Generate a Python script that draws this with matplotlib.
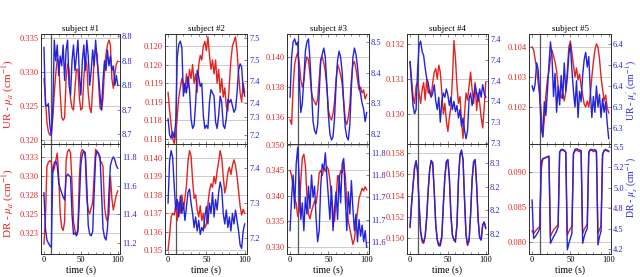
import numpy as np
import matplotlib.pyplot as plt
from matplotlib.ticker import FixedLocator, FixedFormatter, AutoMinorLocator

plt.rcParams['font.family'] = ['Liberation Serif', 'DejaVu Serif']
plt.rcParams['mathtext.fontset'] = 'stix'

RED = '#e2231f'
BLUE = '#2323dc'

# tempo (s), un campione ogni 2 s
time = np.arange(0, 101, 2)

subjects = ['subject #1', 'subject #2', 'subject #3', 'subject #4', 'subject #5']

# --- soggetto 1 ---
ur_mua_1 = [0.3290, 0.3261, 0.3226, 0.3212, 0.3207, 0.3209, 0.3233, 0.3269, 0.3297, 0.3319,
            0.3316, 0.3269, 0.3233, 0.3229, 0.3233, 0.3290, 0.3312, 0.3304, 0.3261, 0.3247,
            0.3244, 0.3276, 0.3304, 0.3304, 0.3261, 0.3244, 0.3247, 0.3290, 0.3319, 0.3312,
            0.3269, 0.3247, 0.3240, 0.3276, 0.3319, 0.3333, 0.3326, 0.3283, 0.3247, 0.3244,
            0.3261, 0.3304, 0.3326, 0.3340, 0.3347, 0.3340, 0.3290, 0.3276, 0.3297, 0.3312, 0.3316]
ur_mus_1 = [8.781, 8.734, 8.733, 8.735, 8.717, 8.709, 8.730, 8.787, 8.770, 8.783,
            8.758, 8.774, 8.766, 8.783, 8.754, 8.779, 8.787, 8.750, 8.742, 8.770,
            8.783, 8.762, 8.774, 8.787, 8.758, 8.742, 8.770, 8.783, 8.762, 8.787,
            8.774, 8.750, 8.762, 8.779, 8.766, 8.787, 8.770, 8.758, 8.742, 8.730,
            8.754, 8.770, 8.762, 8.779, 8.766, 8.774, 8.762, 8.766, 8.750, 8.758, 8.750]
dr_mua_1 = [0.3210, 0.3245, 0.3312, 0.3318, 0.3320, 0.3318, 0.3305, 0.3310, 0.3320, 0.3330,
            0.3300, 0.3250, 0.3232, 0.3228, 0.3240, 0.3320, 0.3332, 0.3335, 0.3330, 0.3290,
            0.3240, 0.3228, 0.3222, 0.3230, 0.3300, 0.3330, 0.3335, 0.3332, 0.3325, 0.3270,
            0.3255, 0.3250, 0.3258, 0.3265, 0.3300, 0.3335, 0.3332, 0.3330, 0.3320, 0.3318,
            0.3312, 0.3260, 0.3245, 0.3240, 0.3250, 0.3300, 0.3270, 0.3255, 0.3265, 0.3275, 0.3280]
dr_mus_1 = [11.55, 11.30, 11.22, 11.20, 11.18, 11.17, 11.70, 11.76, 11.77, 11.74,
            11.62, 11.58, 11.55, 11.52, 11.50, 11.66, 11.68, 11.67, 11.66, 11.40,
            11.26, 11.27, 11.25, 11.28, 11.50, 11.75, 11.82, 11.84, 11.83, 11.60,
            11.32, 11.26, 11.25, 11.28, 11.55, 11.80, 11.84, 11.82, 11.80, 11.55,
            11.30, 11.24, 11.22, 11.30, 11.55, 11.74, 11.78, 11.80, 11.78, 11.74, 11.72]

# --- soggetto 2 ---
ur_mua_2 = [0.1190, 0.1186, 0.1183, 0.1180, 0.1179, 0.1181, 0.1185, 0.1189, 0.1191, 0.1193,
            0.1192, 0.1190, 0.1194, 0.1191, 0.1195, 0.1193, 0.1196, 0.1192, 0.1194, 0.1190,
            0.1196, 0.1198, 0.1197, 0.1200, 0.1201, 0.1199, 0.1202, 0.1198, 0.1195, 0.1197,
            0.1194, 0.1197, 0.1192, 0.1195, 0.1190, 0.1193, 0.1189, 0.1191, 0.1187, 0.1186,
            0.1192, 0.1197, 0.1200, 0.1201, 0.1202, 0.1199, 0.1194, 0.1190, 0.1188, 0.1192, 0.1190]
ur_mus_2 = [7.25, 7.20, 7.19, 7.21, 7.19, 7.24, 7.44, 7.48, 7.49, 7.47,
            7.32, 7.36, 7.33, 7.38, 7.34, 7.25, 7.22, 7.23, 7.30, 7.40,
            7.38, 7.35, 7.36, 7.26, 7.22, 7.23, 7.22, 7.30, 7.34, 7.33,
            7.32, 7.24, 7.22, 7.26, 7.32, 7.30, 7.23, 7.22, 7.25, 7.31,
            7.30, 7.31, 7.29, 7.27, 7.28, 7.33, 7.40, 7.42, 7.41, 7.34, 7.32]
dr_mua_2 = [0.1350, 0.1358, 0.1368, 0.1370, 0.1369, 0.1374, 0.1366, 0.1376, 0.1370, 0.1380,
            0.1372, 0.1378, 0.1385, 0.1398, 0.1404, 0.1401, 0.1388, 0.1378, 0.1380, 0.1372,
            0.1368, 0.1374, 0.1366, 0.1370, 0.1362, 0.1364, 0.1375, 0.1382, 0.1386, 0.1384,
            0.1390, 0.1386, 0.1393, 0.1398, 0.1404, 0.1400, 0.1390, 0.1381, 0.1385, 0.1392,
            0.1395, 0.1391, 0.1396, 0.1399, 0.1396, 0.1390, 0.1382, 0.1374, 0.1369, 0.1372, 0.1370]
dr_mus_2 = [7.30, 7.42, 7.45, 7.43, 7.35, 7.28, 7.31, 7.26, 7.32, 7.27,
            7.30, 7.25, 7.29, 7.33, 7.34, 7.30, 7.27, 7.23, 7.26, 7.22,
            7.25, 7.21, 7.23, 7.22, 7.26, 7.29, 7.24, 7.30, 7.27, 7.33,
            7.26, 7.31, 7.28, 7.33, 7.36, 7.34, 7.27, 7.24, 7.28, 7.23,
            7.26, 7.22, 7.27, 7.24, 7.28, 7.25, 7.22, 7.18, 7.17, 7.22, 7.24]

# --- soggetto 3 ---
ur_mua_3 = [0.1358, 0.1355, 0.1380, 0.1395, 0.1400, 0.1403, 0.1396, 0.1385, 0.1380, 0.1384,
            0.1395, 0.1400, 0.1398, 0.1388, 0.1376, 0.1372, 0.1370, 0.1368, 0.1372, 0.1385,
            0.1398, 0.1400, 0.1396, 0.1390, 0.1380, 0.1365, 0.1360, 0.1358, 0.1362, 0.1370,
            0.1385, 0.1395, 0.1392, 0.1388, 0.1382, 0.1370, 0.1358, 0.1355, 0.1360, 0.1368,
            0.1385, 0.1395, 0.1397, 0.1392, 0.1385, 0.1378, 0.1380, 0.1376, 0.1378, 0.1372, 0.1375]
ur_mus_3 = [8.32, 8.45, 8.50, 8.51, 8.49, 8.50, 8.38, 8.27, 8.30, 8.38,
            8.47, 8.50, 8.51, 8.44, 8.34, 8.24, 8.21, 8.20, 8.23, 8.33,
            8.44, 8.46, 8.48, 8.45, 8.36, 8.26, 8.20, 8.18, 8.19, 8.25,
            8.36, 8.44, 8.47, 8.45, 8.40, 8.30, 8.22, 8.19, 8.18, 8.23,
            8.35, 8.45, 8.48, 8.46, 8.42, 8.36, 8.33, 8.30, 8.28, 8.24, 8.27]
dr_mua_3 = [0.3450, 0.3440, 0.3415, 0.3395, 0.3385, 0.3360, 0.3370, 0.3430, 0.3475, 0.3482,
            0.3460, 0.3400, 0.3365, 0.3355, 0.3370, 0.3380, 0.3390, 0.3385, 0.3410, 0.3445,
            0.3450, 0.3440, 0.3455, 0.3448, 0.3458, 0.3452, 0.3430, 0.3400, 0.3370, 0.3350,
            0.3390, 0.3440, 0.3432, 0.3450, 0.3445, 0.3465, 0.3440, 0.3390, 0.3350, 0.3335,
            0.3320, 0.3305, 0.3315, 0.3340, 0.3370, 0.3395, 0.3405, 0.3415, 0.3410, 0.3418, 0.3412]
dr_mus_3 = [11.66, 11.72, 11.76, 11.70, 11.78, 11.81, 11.75, 11.68, 11.71, 11.66,
            11.72, 11.69, 11.74, 11.70, 11.76, 11.72, 11.74, 11.68, 11.64, 11.66,
            11.74, 11.78, 11.77, 11.80, 11.76, 11.72, 11.68, 11.74, 11.66, 11.70,
            11.73, 11.68, 11.76, 11.71, 11.78, 11.79, 11.72, 11.66, 11.73, 11.69,
            11.75, 11.70, 11.66, 11.69, 11.64, 11.68, 11.65, 11.67, 11.64, 11.66, 11.63]

# --- soggetto 4 ---
ur_mua_4 = [0.1315, 0.1310, 0.1305, 0.1303, 0.1308, 0.1309, 0.1306, 0.1303, 0.1307, 0.1309,
            0.1304, 0.1310, 0.1306, 0.1307, 0.1305, 0.1309, 0.1312, 0.1313, 0.1310, 0.1314,
            0.1312, 0.1306, 0.1300, 0.1303, 0.1298, 0.1295, 0.1299, 0.1302, 0.1310, 0.1321,
            0.1316, 0.1308, 0.1303, 0.1305, 0.1298, 0.1293, 0.1300, 0.1306, 0.1304, 0.1308,
            0.1312, 0.1307, 0.1303, 0.1309, 0.1301, 0.1306, 0.1303, 0.1299, 0.1296, 0.1302, 0.1309]
ur_mus_4 = [7.389, 7.378, 7.368, 7.364, 7.366, 7.385, 7.397, 7.399, 7.394, 7.392,
            7.386, 7.381, 7.379, 7.374, 7.372, 7.374, 7.378, 7.370, 7.366, 7.372,
            7.360, 7.370, 7.374, 7.372, 7.376, 7.373, 7.368, 7.372, 7.366, 7.370,
            7.365, 7.368, 7.362, 7.366, 7.358, 7.362, 7.356, 7.352, 7.356, 7.371,
            7.374, 7.368, 7.372, 7.378, 7.374, 7.370, 7.376, 7.372, 7.378, 7.374, 7.372]
dr_mua_4 = [0.1510, 0.1531, 0.1550, 0.1566, 0.1572, 0.1564, 0.1531, 0.1506, 0.1496, 0.1495,
            0.1502, 0.1519, 0.1545, 0.1564, 0.1573, 0.1571, 0.1545, 0.1512, 0.1498, 0.1493,
            0.1496, 0.1502, 0.1531, 0.1557, 0.1572, 0.1573, 0.1556, 0.1522, 0.1503, 0.1498,
            0.1499, 0.1512, 0.1555, 0.1578, 0.1581, 0.1574, 0.1536, 0.1503, 0.1493, 0.1497,
            0.1522, 0.1555, 0.1571, 0.1573, 0.1550, 0.1517, 0.1500, 0.1498, 0.1512, 0.1515, 0.1509]
dr_mus_4 = [8.206, 8.225, 8.241, 8.256, 8.262, 8.252, 8.225, 8.202, 8.195, 8.193,
            8.198, 8.214, 8.237, 8.255, 8.262, 8.259, 8.235, 8.208, 8.195, 8.190,
            8.190, 8.197, 8.225, 8.248, 8.261, 8.263, 8.247, 8.216, 8.199, 8.195,
            8.193, 8.208, 8.246, 8.267, 8.271, 8.263, 8.229, 8.199, 8.191, 8.195,
            8.216, 8.246, 8.261, 8.263, 8.241, 8.212, 8.197, 8.195, 8.208, 8.210, 8.205]

# --- soggetto 5 ---
ur_mua_5 = [0.1040, 0.1039, 0.1036, 0.1033, 0.1028, 0.1024, 0.1018, 0.1010, 0.1016, 0.1024,
            0.1029, 0.1032, 0.1036, 0.1039, 0.1037, 0.1035, 0.1032, 0.1027, 0.1024, 0.1023,
            0.1025, 0.1022, 0.1025, 0.1032, 0.1040, 0.1042, 0.1038, 0.1034, 0.1030, 0.1033,
            0.1029, 0.1031, 0.1027, 0.1024, 0.1021, 0.1020, 0.1022, 0.1020, 0.1024, 0.1030,
            0.1035, 0.1039, 0.1041, 0.1040, 0.1036, 0.1030, 0.1026, 0.1022, 0.1024, 0.1020, 0.1018]
ur_mus_5 = [6.350, 6.345, 6.352, 6.372, 6.365, 6.340, 6.310, 6.302, 6.335, 6.322,
            6.345, 6.370, 6.392, 6.378, 6.340, 6.362, 6.325, 6.350, 6.332, 6.360,
            6.338, 6.372, 6.345, 6.358, 6.380, 6.390, 6.365, 6.345, 6.330, 6.355,
            6.320, 6.345, 6.335, 6.360, 6.375, 6.382, 6.368, 6.378, 6.345, 6.320,
            6.340, 6.325, 6.350, 6.330, 6.342, 6.320, 6.338, 6.325, 6.335, 6.315, 6.300]
dr_mua_5 = [0.0816, 0.0812, 0.0815, 0.0818, 0.0820, 0.0822, 0.0905, 0.0918, 0.0920, 0.0921,
            0.0922, 0.0923, 0.0808, 0.0813, 0.0817, 0.0820, 0.0822, 0.0825, 0.0928, 0.0931,
            0.0931, 0.0930, 0.0928, 0.0810, 0.0815, 0.0819, 0.0823, 0.0926, 0.0930, 0.0931,
            0.0930, 0.0929, 0.0929, 0.0812, 0.0818, 0.0822, 0.0825, 0.0927, 0.0931, 0.0931,
            0.0929, 0.0930, 0.0928, 0.0812, 0.0818, 0.0823, 0.0926, 0.0930, 0.0931, 0.0930, 0.0929]
dr_mus_5 = [4.85, 4.38, 4.40, 4.43, 4.46, 4.50, 5.32, 5.36, 5.36, 5.37,
            5.38, 5.38, 4.32, 4.36, 4.40, 4.43, 4.47, 4.52, 5.44, 5.47,
            5.47, 5.46, 5.44, 4.24, 4.32, 4.38, 4.44, 5.42, 5.47, 5.48,
            5.47, 5.46, 5.46, 4.32, 4.40, 4.46, 4.50, 5.44, 5.47, 5.47,
            5.46, 5.47, 5.45, 4.30, 4.40, 4.47, 5.40, 5.46, 5.47, 5.46, 5.45]

ur_mua = [ur_mua_1, ur_mua_2, ur_mua_3, ur_mua_4, ur_mua_5]
ur_mus = [ur_mus_1, ur_mus_2, ur_mus_3, ur_mus_4, ur_mus_5]
dr_mua = [dr_mua_1, dr_mua_2, dr_mua_3, dr_mua_4, dr_mua_5]
dr_mus = [dr_mus_1, dr_mus_2, dr_mus_3, dr_mus_4, dr_mus_5]

# tacche e etichette (come nel grafico originale)
ur_mua_ticks = [[0.320, 0.325, 0.330, 0.335],
                [0.1180, 0.1184, 0.1188, 0.1192, 0.1196, 0.1200],
                [0.136, 0.138, 0.140],
                [0.130, 0.131, 0.132],
                [0.102, 0.103, 0.104]]
ur_mua_labels = [['0.320', '0.325', '0.330', '0.335'],
                 ['0.118', '0.118', '0.119', '0.119', '0.120', '0.120'],
                 ['0.136', '0.138', '0.140'],
                 ['0.130', '0.131', '0.132'],
                 ['0.102', '0.103', '0.104']]
ur_mus_ticks = [[8.71, 8.73, 8.75, 8.77, 8.79],
                [7.20, 7.254, 7.298, 7.367, 7.432, 7.50],
                [8.2, 8.3, 8.4, 8.5],
                [7.35, 7.36, 7.37, 7.38, 7.39, 7.40],
                [6.31, 6.33, 6.35, 6.37, 6.39]]
ur_mus_labels = [['8.7', '8.7', '8.8', '8.8', '8.8'],
                 ['7.2', '7.3', '7.4', '7.4', '7.5', '7.5'],
                 ['8.2', '8.3', '8.4', '8.5'],
                 ['7.3', '7.3', '7.4', '7.4', '7.4', '7.4'],
                 ['6.3', '6.3', '6.4', '6.4', '6.4']]
dr_mua_ticks = [[0.3225, 0.325, 0.3275, 0.330, 0.3325],
                [0.135, 0.136, 0.137, 0.138, 0.139, 0.140],
                [0.330, 0.335, 0.340, 0.345, 0.350],
                [0.150, 0.152, 0.154, 0.156, 0.158],
                [0.080, 0.085, 0.090]]
dr_mua_labels = [['0.323', '0.325', '0.328', '0.330', '0.333'],
                 ['0.135', '0.136', '0.137', '0.138', '0.139', '0.140'],
                 ['0.330', '0.335', '0.340', '0.345', '0.350'],
                 ['0.150', '0.152', '0.154', '0.156', '0.158'],
                 ['0.080', '0.085', '0.090']]
dr_mus_ticks = [[11.2, 11.4, 11.6, 11.8],
                [7.2, 7.3, 7.4],
                [11.64, 11.68, 11.72, 11.76, 11.80],
                [8.20, 8.22, 8.24, 8.26],
                [4.25, 4.5, 4.75, 5.0, 5.25, 5.5]]
dr_mus_labels = [['11.2', '11.4', '11.6', '11.8'],
                 ['7.2', '7.3', '7.4'],
                 ['11.6', '11.7', '11.7', '11.8', '11.8'],
                 ['8.2', '8.2', '8.2', '8.3'],
                 ['4.2', '4.5', '4.8', '5.0', '5.2', '5.5']]

# limiti degli assi y
ur_mua_lim = [(0.3194, 0.3356), (0.11789, 0.12026), (0.1342, 0.14153), (0.12914, 0.13229), (0.10077, 0.10443)]
ur_mus_lim = [(8.702, 8.792), (7.172, 7.512), (8.167, 8.526), (7.3495, 7.4024), (6.2948, 6.3995)]
dr_mua_lim = [(0.3197, 0.3342), (0.13478, 0.14076), (0.3286, 0.3502), (0.1485, 0.15885), (0.07829, 0.0940)]
dr_mus_lim = [(11.123, 11.89), (7.154, 7.469), (11.618, 11.816), (8.183, 8.276), (4.189, 5.537)]

# posizione dei pannelli in pixel
W, H = 640, 277
left_px = [41, 165, 287, 407, 529]
width_px = [79, 82, 82, 81, 82]
top_px, mid_px, bot_px = 34, 144, 254

fig = plt.figure(figsize=(W / 100, H / 100), dpi=100)


def style_panel(ax, ax2, lim1, lim2, t1, l1, t2, l2, bottom):
    ax.set_xlim(-4, 103)
    ax.set_ylim(*lim1)
    ax2.set_ylim(*lim2)
    ax.yaxis.set_major_locator(FixedLocator(t1))
    ax.yaxis.set_major_formatter(FixedFormatter(l1))
    ax2.yaxis.set_major_locator(FixedLocator(t2))
    ax2.yaxis.set_major_formatter(FixedFormatter(l2))
    ax.set_xticks([0, 50, 100])
    ax.xaxis.set_minor_locator(AutoMinorLocator(5))
    ax.tick_params(axis='y', direction='in', length=2.5, width=0.5, color='#555555',
                   labelsize=6, labelcolor=RED, pad=1.5, right=False)
    ax2.tick_params(axis='y', direction='in', length=2.5, width=0.5, color='#555555',
                    labelsize=6, labelcolor=BLUE, pad=1.5)
    ax.tick_params(axis='x', which='both', direction='in', top=True, bottom=True,
                   width=0.5, color='#555555', labelsize=6, pad=1.5, labelbottom=bottom)
    ax.tick_params(axis='x', which='major', length=2.5)
    ax.tick_params(axis='x', which='minor', length=1.5)
    ax.yaxis.grid(True, color='#c4c4c4', lw=0.6)
    ax.set_axisbelow(True)
    for a in (ax, ax2):
        for s in a.spines.values():
            s.set_color('#333333')
            s.set_linewidth(0.7)
    ax.axvline(10, color='#555555', lw=0.9, zorder=1)


for i in range(5):
    x0 = left_px[i] / W
    w = width_px[i] / W
    h = (mid_px - top_px) / H

    # riga superiore: UR
    ax = fig.add_axes([x0, 1 - mid_px / H, w, h])
    ax2 = ax.twinx()
    ax.plot(time, ur_mua[i], color=RED, lw=1.0)
    ax2.plot(time, ur_mus[i], color=BLUE, lw=1.0)
    style_panel(ax, ax2, ur_mua_lim[i], ur_mus_lim[i], ur_mua_ticks[i], ur_mua_labels[i],
                ur_mus_ticks[i], ur_mus_labels[i], False)
    ax.set_title(subjects[i], fontsize=6.5, pad=2.5)

    # riga inferiore: DR
    ax = fig.add_axes([x0, 1 - bot_px / H, w, h])
    ax2 = ax.twinx()
    ax.plot(time, dr_mua[i], color=RED, lw=1.0)
    ax2.plot(time, dr_mus[i], color=BLUE, lw=1.0)
    style_panel(ax, ax2, dr_mua_lim[i], dr_mus_lim[i], dr_mua_ticks[i], dr_mua_labels[i],
                dr_mus_ticks[i], dr_mus_labels[i], True)
    ax.set_xlabel('time (s)', fontsize=7, labelpad=1)

# etichette degli assi y
fig.text(0.013, 1 - 94 / H, r'UR - $\mu_a$ (cm$^{-1}$)', color=RED, fontsize=8,
         rotation=90, ha='center', va='center')
fig.text(0.013, 1 - 203 / H, r'DR - $\mu_a$ (cm$^{-1}$)', color=RED, fontsize=8,
         rotation=90, ha='center', va='center')
fig.text(0.9875, 1 - 90 / H, r"UR - $\mu_s'$ (cm$^{-1}$)", color=BLUE, fontsize=7,
         rotation=90, ha='center', va='center')
fig.text(0.9875, 1 - 187 / H, r"DR - $\mu_s'$ (cm$^{-1}$)", color=BLUE, fontsize=7,
         rotation=90, ha='center', va='center')

fig.savefig('out.png', dpi=100)
